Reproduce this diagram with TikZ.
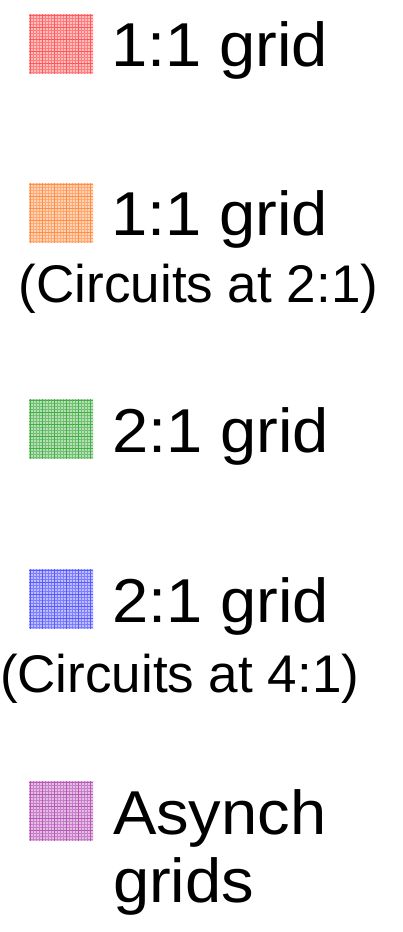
\documentclass[tikz,border=0pt]{standalone}
\usepackage{fontspec}
\usepackage{graphicx}
\setmainfont{Liberation Sans}
\definecolor{cred}{RGB}{255,70,70}
\definecolor{corange}{RGB}{255,130,50}
\definecolor{cgreen}{RGB}{50,165,50}
\definecolor{cblue}{RGB}{70,70,255}
\definecolor{cpurple}{RGB}{175,70,175}
\tikzset{
  lab/.style={anchor=base west, inner sep=0pt, outer sep=0pt},
}
\newcommand{\gridsw}[3]{% color, x, y(top)
  \begin{scope}
  \clip (#2,#3) rectangle ++(64,60);
  \fill[#1!35] (#2,#3) rectangle ++(64,60);
  \foreach \i in {0,3,...,63}{
    \draw[#1!70, line width=0.9pt] ($(#2,#3)+(\i+1,0)$) -- ++(0,60);
  }
  \foreach \j in {0,3,...,60}{
    \draw[#1!70, line width=0.9pt] ($(#2,#3)+(0,\j+1)$) -- ++(64,0);
  }
  \foreach \i in {0,12,...,63}{
    \draw[#1!90, line width=0.8pt] ($(#2,#3)+(\i+1,0)$) -- ++(0,60);
  }
  \foreach \j in {0,12,...,60}{
    \draw[#1!90, line width=0.8pt] ($(#2,#3)+(0,\j+1)$) -- ++(64,0);
  }
  \end{scope}
}
\newcommand{\txt}[3]{\fontsize{#1}{#1}\selectfont\scalebox{#2}[1]{#3}}
\usetikzlibrary{calc}
\begin{document}
\begin{tikzpicture}[x=1pt,y=-1pt]
\useasboundingbox (0,0) rectangle (402,932);
\gridsw{cred}{29}{14}
\gridsw{corange}{29}{183}
\gridsw{cgreen}{29}{399}
\gridsw{cblue}{29}{569}
\gridsw{cpurple}{29}{781}
\node[lab] (t1) at (111,66) {\txt{62}{1.05}{1:1 grid}};
\node[lab] (t2) at (111,235) {\txt{62}{1.05}{1:1 grid}};
\node[lab] (s2) at (19,302) {\txt{53}{1.0}{(Circuits at 2:1)}};
\node[lab] (t3) at (112,452) {\txt{62}{1.05}{2:1 grid}};
\node[lab] (t4) at (112,622) {\txt{62}{1.05}{2:1 grid}};
\node[lab] (s4) at (0,692) {\txt{53}{1.0}{(Circuits at 4:1)}};
\node[lab] (t5) at (113,834) {\txt{62}{1.05}{Asynch}};
\node[lab] (t6) at (113,902) {\txt{62}{1.05}{grids}};
\end{tikzpicture}
\end{document}
